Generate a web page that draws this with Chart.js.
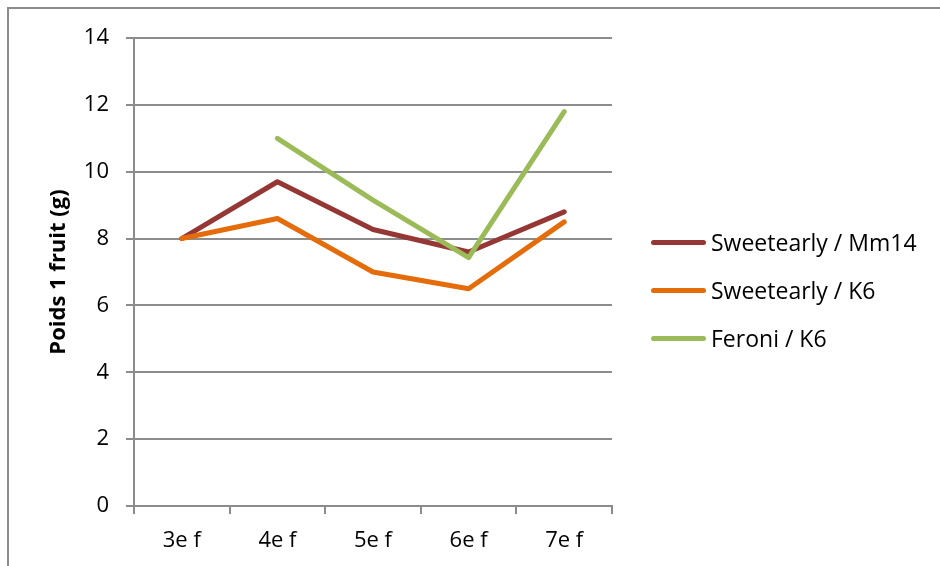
<!DOCTYPE html>
<html>
<head>
<meta charset="utf-8">
<script src="https://cdn.jsdelivr.net/npm/chart.js@4/dist/chart.umd.min.js"></script>
<style>
  body { margin: 0; background: #fff; }
  #wrap { position: relative; width: 940px; height: 566px; overflow: hidden; }
  #frame { position: absolute; left: 7px; top: 7px; width: 1000px; height: 1000px;
           border-left: 2px solid #8c8c8c; border-top: 2px solid #8c8c8c; }
  #chart { position: absolute; left: 0; top: 0; }
  .legend-item { position: absolute; left: 651px; height: 30px; display: flex; align-items: center;
                 font-family: "Open Sans", sans-serif; font-size: 23px; color: #000; }
  .legend-item span.swatch { display: inline-block; width: 55px; height: 5px; border-radius: 3px; margin-right: 5px; }
</style>
</head>
<body>
<div id="wrap">
  <div id="frame"></div>
  <canvas id="chart" width="940" height="566"></canvas>
  <div id="legend"></div>
</div>
<script>
var categories = ['3e f', '4e f', '5e f', '6e f', '7e f'];
var seriesNames = ['Sweetearly / Mm14', 'Sweetearly / K6', 'Feroni / K6'];
var sweetearlyMm14 = [8.0, 9.7, 8.27, 7.6, 8.8];
var sweetearlyK6 = [8.0, 8.6, 7.0, 6.5, 8.5];
var feroniK6 = [null, 11.0, 9.15, 7.43, 11.8];
var colors = ['#953735', '#E46C0A', '#9BBB59'];
var legendRows = [242, 290, 338];

var gridColor = '#8c8c8c';
var tickFont = { family: 'Open Sans', size: 22 };

function makeDataset(i, values) {
  return {
    label: seriesNames[i],
    data: values,
    borderColor: colors[i],
    backgroundColor: colors[i],
    borderWidth: 5,
    borderCapStyle: 'round',
    borderJoinStyle: 'round',
    pointRadius: 0,
    tension: 0,
    order: 3 - i
  };
}

var myChart = new Chart(document.getElementById('chart'), {
  type: 'line',
  data: {
    labels: categories,
    datasets: [
      makeDataset(0, sweetearlyMm14),
      makeDataset(1, sweetearlyK6),
      makeDataset(2, feroniK6)
    ]
  },
  options: {
    responsive: false,
    animation: false,
    layout: { padding: { left: 0, top: 38, right: 328, bottom: 0 } },
    plugins: { legend: { display: false }, tooltip: { enabled: false } },
    scales: {
      x: {
        offset: true,
        grid: { offset: true, drawOnChartArea: false, tickLength: 8, color: gridColor, lineWidth: 2 },
        border: { color: gridColor, width: 2 },
        ticks: { color: '#000', font: tickFont, padding: 14, maxRotation: 0 },
        afterFit: function (scale) { scale.height = 60; }
      },
      y: {
        min: 0,
        max: 14,
        ticks: { stepSize: 2, color: '#000', font: tickFont, padding: 17 },
        grid: { tickLength: 8, color: gridColor, lineWidth: 2 },
        border: { color: gridColor, width: 2 },
        title: {
          display: true,
          text: 'Poids 1 fruit (g)',
          color: '#000',
          font: { family: 'Open Sans', size: 22, weight: 'bold' },
          padding: { top: 46, bottom: 0 }
        },
        afterFit: function (scale) { scale.width = 134; }
      }
    }
  }
});

var legend = document.getElementById('legend');
seriesNames.forEach(function (name, i) {
  var item = document.createElement('div');
  item.className = 'legend-item';
  item.style.top = (legendRows[i] - 15) + 'px';
  var sw = document.createElement('span');
  sw.className = 'swatch';
  sw.style.background = colors[i];
  item.appendChild(sw);
  item.appendChild(document.createTextNode(name));
  legend.appendChild(item);
});
</script>
</body>
</html>
